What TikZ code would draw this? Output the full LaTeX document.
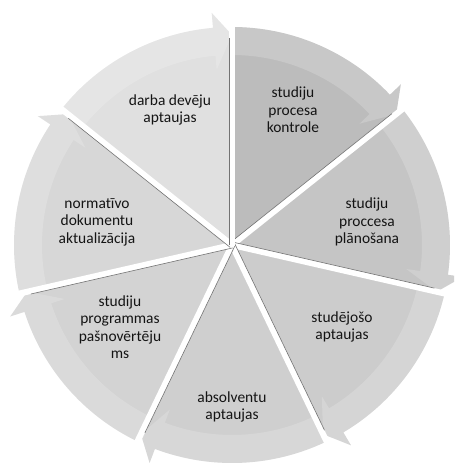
\documentclass[tikz,border=0pt]{standalone}
\usepackage{fontspec}
\setmainfont{Carlito}[Ligatures={NoCommon,NoRare,NoDiscretionary}]
\usetikzlibrary{calc}
\definecolor{w1}{RGB}{188,188,188}
\definecolor{w2}{RGB}{197,197,197}
\definecolor{w3}{RGB}{204,204,204}
\definecolor{w4}{RGB}{207,207,207}
\definecolor{w5}{RGB}{211,211,211}
\definecolor{w6}{RGB}{215,215,215}
\definecolor{w7}{RGB}{224,224,224}
\definecolor{txt}{RGB}{20,20,20}
\begin{document}
\begin{tikzpicture}[x=0.75pt,y=0.75pt,
  lbl/.style={align=center, font=\fontsize{11.6}{13.1}\selectfont, text=txt, inner sep=0pt},
  gapline/.style={white, line width=4.5pt},
  edgeline/.style={black!55, line width=0.45pt}]
\useasboundingbox (-232,-222) rectangle (222,245);
\clip (-232,-222) rectangle (222,245);
\def\R{218}
\foreach \a/\b/\c in {90/38.57/w1, 38.57/-12.86/w2, -12.86/-64.29/w3, -64.29/-115.71/w4, -115.71/-167.14/w5, -167.14/-218.57/w6, -218.57/-270/w7} {
  \pgfmathsetmacro\bb{\b+5}
  \fill[\c] (0,0) -- ({\a}:\R) arc[start angle=\a, end angle=\bb, radius=\R] -- ({\bb}:{\R+15}) -- ({\b}:210) -- cycle;
  \fill[white, opacity=0.18] ({\a}:190) -- ({\a}:\R) arc[start angle=\a, end angle=\bb, radius=\R] -- ({\bb}:{\R+15}) -- ({\b}:210) -- ({\bb}:176) -- ({\bb}:190) arc[start angle=\bb, end angle=\a, radius=190] -- cycle;
}
\foreach \b in {38.57,-12.86,-64.29,-115.71,-167.14,-218.57,-270} {
  \draw[gapline] (0,0) -- ({\b}:248);
  \draw[edgeline] ($({\b+90}:3)$) -- ($({\b}:207)+({\b+90}:3)$);
}
\node[lbl] (t1) at (61,135) {studiju\\procesa\\kontrole};
\node[lbl] (t2) at (135,23) {studiju\\proccesa\\plānošana};
\node[lbl] (t3) at (110,-82) {studējošo\\aptaujas};
\node[lbl] (t4) at (0,-162) {absolventu\\aptaujas};
\node[lbl] (t5) at (-112,-82) {studiju\\programmas\\pašnovērtēju\\ms};
\node[lbl] (t6) at (-135,23) {normatīvo\\dokumentu\\aktualizācija};
\node[lbl] (t7) at (-62,135) {darba devēju\\aptaujas};
\end{tikzpicture}
\end{document}
